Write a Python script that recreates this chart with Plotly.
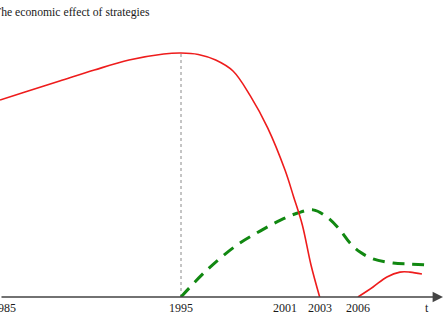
import plotly.graph_objects as go

# --- data (time in years, effect in relative units) ---
red1_t = [1984.56, 1986, 1988, 1990, 1992, 1994, 1995, 1996, 1997, 1998, 1999, 2000, 2001, 2001.5, 2002, 2002.5, 2003]
red1_v = [80.7, 84.0, 88.5, 93.0, 97.1, 99.6, 100, 99.4, 97.1, 92.6, 82.4, 69.3, 52.0, 41.0, 29.5, 13.1, 0]

red2_t = [2005.21, 2006.08, 2006.88, 2007.63, 2008.21, 2008.9]
red2_v = [0, 4.1, 8.2, 10.2, 10.2, 9.4]

green_t = [1995, 1996.5, 1998.23, 1999.56, 2000.71, 2001.69, 2002.62, 2003.42, 2004.17, 2004.75, 2005.33, 2006.08, 2007.23, 2008.21, 2009.37]
green_v = [0, 11.1, 21.3, 27.0, 31.4, 34.3, 35.7, 32.8, 27.5, 22.1, 18.4, 15.6, 13.9, 13.5, 13.1]

peak_t = [1995, 1995]
peak_v = [0, 100]

tick_pos = [1984.8, 1995, 2001, 2003, 2005.2, 2009.2]
tick_text = ["1985", "1995", "2001", "2003", "2006", "t"]

title_text = "The economic effect of strategies"

X_MIN, X_MAX = 1984.558, 2010.115
Y_MIN, Y_MAX = 0, 121.7

SERIF = "Liberation Serif"

fig = go.Figure()
fig.add_trace(go.Scatter(x=peak_t, y=peak_v, mode="lines",
                         line=dict(color="#8a8a8a", width=1, dash="dot"), hoverinfo="skip"))
fig.add_trace(go.Scatter(x=green_t, y=green_v, mode="lines", line_shape="spline",
                         line=dict(color="#118811", width=3, dash="12px,8px")))
fig.add_trace(go.Scatter(x=red1_t, y=red1_v, mode="lines", line_shape="spline",
                         line=dict(color="#ee1c1c", width=1.6)))
fig.add_trace(go.Scatter(x=red2_t, y=red2_v, mode="lines", line_shape="spline",
                         line=dict(color="#ee1c1c", width=1.6)))

# horizontal axis with arrow
fig.add_annotation(x=X_MAX, y=0, ax=X_MIN, ay=0, xref="x", yref="y", axref="x", ayref="y",
                   text="", showarrow=True, arrowhead=2, arrowsize=1.3, arrowwidth=1.6,
                   arrowcolor="#444444")

# tick labels
for pos, txt in zip(tick_pos, tick_text):
    fig.add_annotation(x=pos, y=0, xref="x", yref="y", xanchor="center", yanchor="middle",
                       yshift=-11, text=txt, showarrow=False,
                       font=dict(family=SERIF, size=12, color="#1a1a1a"))

fig.add_annotation(x=0, y=1, xref="paper", yref="paper", xanchor="left", yanchor="top",
                   xshift=-8, yshift=-4, text=title_text, showarrow=False,
                   font=dict(family=SERIF, size=11.7, color="#1a1a1a"))

fig.update_layout(
    width=443, height=318, margin=dict(l=0, r=0, t=0, b=21),
    paper_bgcolor="white", plot_bgcolor="white", showlegend=False,
    xaxis=dict(range=[X_MIN, X_MAX], showgrid=False, zeroline=False, showline=False,
               showticklabels=False),
    yaxis=dict(range=[Y_MIN, Y_MAX], showgrid=False, zeroline=False, showline=False,
               showticklabels=False),
)

fig.write_html("out.html")
